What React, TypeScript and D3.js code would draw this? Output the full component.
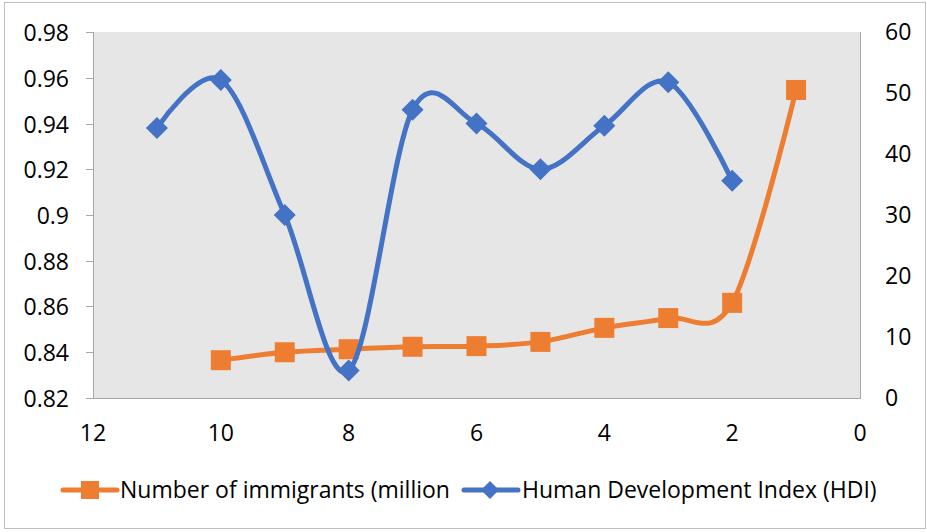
import React, { useEffect, useRef } from 'react';
import * as d3 from 'd3';

const hdiX = [11, 10, 9, 8, 7, 6, 5, 4, 3, 2];
const hdiValues = [0.938, 0.959, 0.9, 0.832, 0.946, 0.94, 0.92, 0.939, 0.958, 0.915];
const immX = [10, 9, 8, 7, 6, 5, 4, 3, 2, 1];
const immValues = [6.2, 7.5, 8.0, 8.4, 8.5, 9.2, 11.5, 13.1, 15.6, 50.5];
const xTicks = [12, 10, 8, 6, 4, 2, 0];
const leftTicks = [0.82, 0.84, 0.86, 0.88, 0.9, 0.92, 0.94, 0.96, 0.98];
const rightTicks = [0, 10, 20, 30, 40, 50, 60];
const seriesNames = ['Number of immigrants (million', 'Human Development Index (HDI)'];

const W = 927;
const H = 532;
const FONT = '"Open Sans", "Liberation Sans", Arial, sans-serif';
const FS = 23;

const App: React.FC = () => {
  const svgRef = useRef<SVGSVGElement>(null);

  useEffect(() => {
    document.body.style.margin = '0';
    if (!svgRef.current) return;
    const svg = d3.select(svgRef.current);
    svg.selectAll('*').remove();

    const left = 93, right = 860, top = 32, bottom = 398;
    const x = d3.scaleLinear().domain([12, 0]).range([left, right]);
    const yL = d3.scaleLinear().domain([0.82, 0.98]).range([bottom, top]);
    const yR = d3.scaleLinear().domain([0, 60]).range([bottom, top]);

    // outer frame
    svg.append('rect').attr('x', 4.5).attr('y', 2.5).attr('width', 921).attr('height', 526)
      .attr('fill', 'white').attr('stroke', '#bfbfbf').attr('stroke-width', 1);

    // plot area
    svg.append('rect').attr('x', left).attr('y', top).attr('width', right - left).attr('height', bottom - top)
      .attr('fill', '#e7e6e6');

    // axis lines
    svg.append('line').attr('x1', left + 0.5).attr('x2', left + 0.5).attr('y1', top).attr('y2', bottom)
      .attr('stroke', '#a6a6a6');
    svg.append('line').attr('x1', right + 0.5).attr('x2', right + 0.5).attr('y1', top).attr('y2', bottom)
      .attr('stroke', '#a6a6a6');
    svg.append('line').attr('x1', left).attr('x2', right + 1).attr('y1', bottom + 0.5).attr('y2', bottom + 0.5)
      .attr('stroke', '#a6a6a6');

    // left ticks + labels
    const lg = svg.append('g');
    leftTicks.forEach(t => {
      const y = Math.round(yL(t)) + 0.5;
      lg.append('line').attr('x1', left - 7).attr('x2', left).attr('y1', y).attr('y2', y).attr('stroke', '#a6a6a6');
      lg.append('text').attr('x', 69).attr('y', y).attr('dy', '0.35em').attr('text-anchor', 'end')
        .attr('font-family', FONT).attr('font-size', FS).attr('fill', '#000').text(String(t));
    });

    // right labels
    rightTicks.forEach(t => {
      svg.append('text').attr('x', 885).attr('y', yR(t)).attr('dy', '0.35em').attr('text-anchor', 'start')
        .attr('font-family', FONT).attr('font-size', FS).attr('fill', '#000').text(String(t));
    });

    // x labels
    xTicks.forEach(t => {
      svg.append('text').attr('x', x(t)).attr('y', 433).attr('dy', '0.35em').attr('text-anchor', 'middle')
        .attr('font-family', FONT).attr('font-size', FS).attr('fill', '#000').text(String(t));
    });

    const orange = '#ed7d31';
    const blue = '#4472c4';

    // immigrants series
    const immLine = d3.line<number>()
      .x((_, i) => x(immX[i]))
      .y(d => yR(d))
      .curve(d3.curveCardinal.tension(0));
    svg.append('path').attr('d', immLine(immValues) as string).attr('fill', 'none')
      .attr('stroke', orange).attr('stroke-width', 5).attr('stroke-linejoin', 'round');
    const sq = 20;
    immValues.forEach((v, i) => {
      svg.append('rect').attr('x', x(immX[i]) - sq / 2).attr('y', yR(v) - sq / 2)
        .attr('width', sq).attr('height', sq).attr('fill', orange);
    });

    // HDI series
    const hdiLine = d3.line<number>()
      .x((_, i) => x(hdiX[i]))
      .y(d => yL(d))
      .curve(d3.curveCardinal.tension(0));
    svg.append('path').attr('d', hdiLine(hdiValues) as string).attr('fill', 'none')
      .attr('stroke', blue).attr('stroke-width', 5).attr('stroke-linejoin', 'round');
    const dia = 11;
    const diamond = (cx: number, cy: number) =>
      `M${cx},${cy - dia}L${cx + dia},${cy}L${cx},${cy + dia}L${cx - dia},${cy}Z`;
    hdiValues.forEach((v, i) => {
      svg.append('path').attr('d', diamond(x(hdiX[i]), yL(v))).attr('fill', blue);
    });

    // legend
    const ly = 490;
    svg.append('line').attr('x1', 63).attr('x2', 117).attr('y1', ly).attr('y2', ly)
      .attr('stroke', orange).attr('stroke-width', 5).attr('stroke-linecap', 'round');
    svg.append('rect').attr('x', 90 - 9).attr('y', ly - 9).attr('width', 18).attr('height', 18).attr('fill', orange);
    svg.append('text').attr('x', 120).attr('y', ly).attr('dy', '0.35em')
      .attr('font-family', FONT).attr('font-size', FS).attr('fill', '#000').text(seriesNames[0]);

    svg.append('line').attr('x1', 464).attr('x2', 518).attr('y1', ly).attr('y2', ly)
      .attr('stroke', blue).attr('stroke-width', 5).attr('stroke-linecap', 'round');
    svg.append('path').attr('d', `M490,${ly - 9}L499,${ly}L490,${ly + 9}L481,${ly}Z`).attr('fill', blue);
    svg.append('text').attr('x', 522).attr('y', ly).attr('dy', '0.35em')
      .attr('font-family', FONT).attr('font-size', FS).attr('fill', '#000').text(seriesNames[1]);
  }, []);

  return <svg ref={svgRef} width={W} height={H} style={{ display: 'block' }} />;
};

export default App;
